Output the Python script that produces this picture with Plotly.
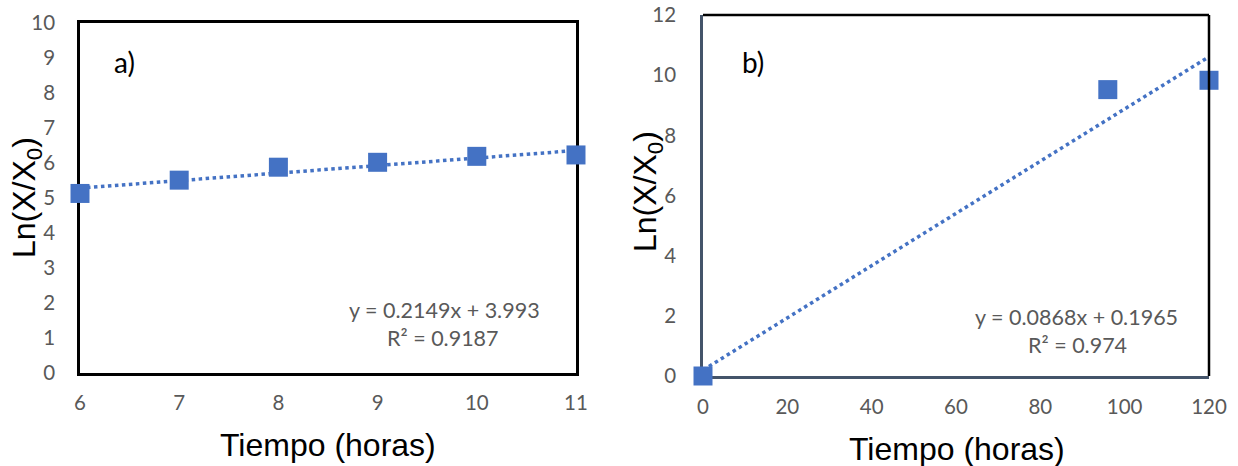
import plotly.graph_objects as go

# ---- data ----
time_a = [6, 7, 8, 9, 10, 11]
lnx_a = [5.13, 5.51, 5.88, 6.02, 6.19, 6.23]
slope_a, intercept_a, r2_a = 0.2149, 3.993, 0.9187

time_b = [0, 96, 120]
lnx_b = [0.0, 9.52, 9.83]
slope_b, intercept_b, r2_b = 0.0868, 0.1965, 0.974

xticks_a = [6, 7, 8, 9, 10, 11]
yticks_a = list(range(0, 11))
xticks_b = [0, 20, 40, 60, 80, 100, 120]
yticks_b = [0, 2, 4, 6, 8, 10, 12]

BLUE = "#4472C4"
GRAY = "#595959"
TICKFONT = dict(family="Lato, Open Sans, sans-serif", size=20.5, color=GRAY)
EQFONT = dict(family="Lato, Open Sans, sans-serif", size=21.5, color=GRAY)
W, H = 1238, 466

def px_x(p):
    return p / W

def px_y(p):
    return 1 - p / H

fig = go.Figure()

# panel a
tr_xa = [time_a[0], time_a[-1]]
fig.add_trace(go.Scatter(x=tr_xa, y=[slope_a * v + intercept_a for v in tr_xa],
                         mode="lines", line=dict(color=BLUE, width=3.5, dash="dot"),
                         xaxis="x", yaxis="y", showlegend=False, hoverinfo="skip"))
fig.add_trace(go.Scatter(x=time_a, y=lnx_a, mode="markers",
                         marker=dict(symbol="square", size=19, color=BLUE),
                         cliponaxis=False, xaxis="x", yaxis="y", showlegend=False))

# panel b
tr_xb = [time_b[0], time_b[-1]]
fig.add_trace(go.Scatter(x=tr_xb, y=[slope_b * v + intercept_b for v in tr_xb],
                         mode="lines", line=dict(color=BLUE, width=3.5, dash="dot"),
                         xaxis="x2", yaxis="y2", showlegend=False, hoverinfo="skip"))
fig.add_trace(go.Scatter(x=time_b, y=lnx_b, mode="markers",
                         marker=dict(symbol="square", size=19, color=BLUE),
                         cliponaxis=False, xaxis="x2", yaxis="y2", showlegend=False))

axis_common = dict(showgrid=False, zeroline=False, ticks="", tickfont=TICKFONT,
                   layer="below traces", ticklabeloverflow="allow")

fig.update_layout(
    width=W, height=H,
    margin=dict(l=0, r=0, t=0, b=0, autoexpand=False),
    paper_bgcolor="white", plot_bgcolor="white",
    xaxis=dict(domain=[px_x(80), px_x(576)], range=[6, 11], tickvals=xticks_a,
               showline=True, linecolor="black", linewidth=2.5, mirror=True,
               ticklabelstandoff=10, anchor="y", **axis_common),
    yaxis=dict(domain=[px_y(373), px_y(23)], range=[0, 10], tickvals=yticks_a,
               showline=True, linecolor="black", linewidth=2.5, mirror=True,
               ticklabelstandoff=18, anchor="x", **axis_common),
    xaxis2=dict(domain=[px_x(703), px_x(1209)], range=[0, 120], tickvals=xticks_b,
                showline=True, linecolor="#44546A", linewidth=2.5,
                ticklabelstandoff=11, anchor="y2", **axis_common),
    yaxis2=dict(domain=[px_y(376), px_y(15)], range=[0, 12], tickvals=yticks_b,
                showline=True, linecolor="#44546A", linewidth=2.5,
                ticklabelstandoff=20, anchor="x2", **axis_common),
    shapes=[
        dict(type="line", xref="paper", yref="paper",
             x0=px_x(703), x1=px_x(1209), y0=px_y(15), y1=px_y(15),
             line=dict(color="black", width=2.5)),
        dict(type="line", xref="paper", yref="paper",
             x0=px_x(1209), x1=px_x(1209), y0=px_y(15), y1=px_y(376),
             line=dict(color="black", width=2.5)),
    ],
)

TITLEFONT = dict(family="Arial, Liberation Sans, sans-serif", size=32, color="black")
ann = [
    dict(text="Tiempo (horas)", x=px_x(328), y=px_y(445), font=TITLEFONT),
    dict(text="Tiempo (horas)", x=px_x(957), y=px_y(449), font=TITLEFONT),
    dict(text="Ln(X/X<sub>0</sub>)", x=px_x(27), y=px_y(198), font=TITLEFONT, textangle=-90),
    dict(text="Ln(X/X<sub>0</sub>)", x=px_x(647), y=px_y(192), font=TITLEFONT, textangle=-90),
    dict(text="a)", x=px_x(124), y=px_y(62),
         font=dict(family="Lato, sans-serif", size=28, color="black")),
    dict(text="b)", x=px_x(753), y=px_y(62),
         font=dict(family="Lato, sans-serif", size=28, color="black")),
    dict(text=f"y = {slope_a}x + {intercept_a}", x=px_x(444), y=px_y(310), font=EQFONT),
    dict(text=f"R² = {r2_a}", x=px_x(443), y=px_y(338), font=EQFONT),
    dict(text=f"y = {slope_b}x + {intercept_b}", x=px_x(1076), y=px_y(317), font=EQFONT),
    dict(text=f"R² = {r2_b}", x=px_x(1077), y=px_y(345), font=EQFONT),
]
for a in ann:
    a.update(xref="paper", yref="paper", showarrow=False, xanchor="center", yanchor="middle")
fig.update_layout(annotations=ann)

fig.write_html("out.html",
               config={"displayModeBar": False},
               post_script="document.body.style.margin='0';document.body.style.overflow='hidden';")
